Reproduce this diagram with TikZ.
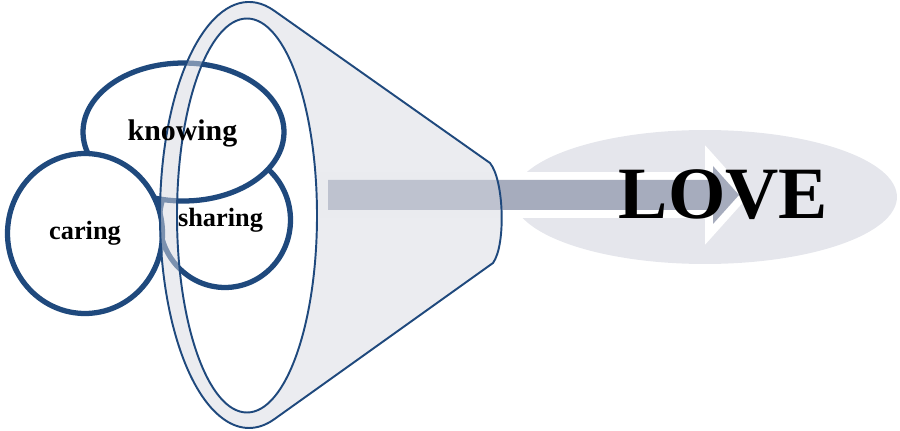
\documentclass[tikz,border=0pt]{standalone}
\usepackage{fontspec}
\setmainfont{Liberation Serif}
\usetikzlibrary{shapes.geometric}
\definecolor{navy}{RGB}{31,73,125}
\definecolor{rim}{RGB}{215,217,225}
\definecolor{bar}{RGB}{166,172,189}
\definecolor{halo}{RGB}{229,230,236}

\begin{document}
\begin{tikzpicture}[x=0.02cm,y=0.02cm,
    ring/.style={ellipse,draw=navy,line width=3pt,fill=white,inner sep=0pt},
    word/.style={anchor=base,font=\bfseries\fontsize{15}{18}\selectfont},
    funnel/.style={draw=navy,line width=1.1pt}]
    \useasboundingbox (0,0) rectangle (900,430);

    \node[ellipse,fill=halo,minimum width=7.68cm,minimum height=2.68cm] (halo) at (705,233) {};
    \fill[bar,preaction={draw=white,line width=9pt}]
      (328,250) -- (713,250) -- (713,264) -- (739,235) -- (713,206) -- (713,220) -- (328,220) -- cycle;

    \node[ring,minimum width=2.62cm,minimum height=2.7cm] (sharing) at (225,210) {};
    \node[ring,minimum width=4.02cm,minimum height=2.76cm] (knowing) at (183.5,298) {};
    \node[ring,minimum width=3.1cm,minimum height=3.2cm] (caring) at (85,196.5) {};

    % funnel: rim and body, the opening left clear
    \path[funnel,fill=rim,fill opacity=0.5,even odd rule]
      (249,215) ++(73.5:89 and 213)
      arc[start angle=73.5,end angle=286.5,x radius=89,y radius=213]
      -- (493,167) .. controls (506,185) and (504,250) .. (490,267) -- cycle
      (247,214.5) ellipse[x radius=70,y radius=197];

    \node[word] (caringtxt) at (85,191) {caring};
    \node[word,font=\bfseries\fontsize{17}{20}\selectfont] (knowingtxt) at (182.5,289) {knowing};
    \node[word] (sharingtxt) at (220.5,203) {sharing};
    \node[word,font=\bfseries\fontsize{42}{50}\selectfont] (lovetxt) at (723.5,212) {LOVE};
\end{tikzpicture}
\end{document}
